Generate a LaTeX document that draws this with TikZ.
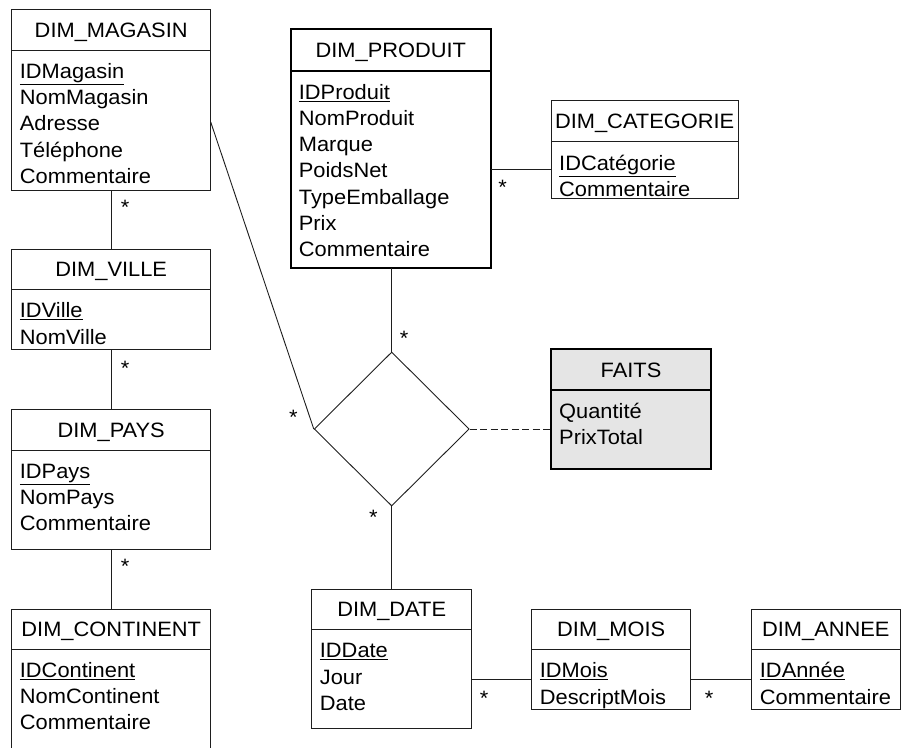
\documentclass[tikz,border=0pt]{standalone}
\usepackage{fontspec}
\setmainfont{Liberation Sans}[FakeStretch=1.05]
\usetikzlibrary{shapes.geometric}
\definecolor{faitsgray}{RGB}{229,229,229}
\definecolor{linecol}{RGB}{30,30,30}
\tikzset{
  boxthin/.style={draw=linecol, line width=0.9pt},
  boxthick/.style={draw=black, line width=1.9pt},
  boxfaits/.style={draw=black, line width=1.9pt, fill=faitsgray},
  hdr/.style={inner sep=0pt, anchor=center, text height=15pt, text depth=0pt},
  attr/.style={inner sep=0pt, anchor=base west},
  mult/.style={inner sep=0pt, anchor=base},
  conn/.style={draw=linecol, line width=0.9pt},
}
% #1 style, #2 name, #3 x1, #4 y1, #5 x2, #6 y header line, #7 y2, #8 title, #9 attributes
\newcommand\umltbl[9]{%
  \pgfmathsetmacro\tblw{#5-#3}\pgfmathsetmacro\tblh{#7-#4}%
  \node[#1, inner sep=0pt, outer sep=0pt, minimum width=\tblw pt, minimum height=\tblh pt, anchor=north west] (#2) at (#3,#4) {};
  \draw[#1, fill=none] (#3,#6) -- (#5,#6);
  \node[hdr] (#2-h) at ({(#3+#5)/2},{(#4+#6)/2}) {#8};
  \foreach \a [count=\i] in {#9} {\node[attr] (#2-\i) at (#3+8, {#6+28.5+(\i-1)*26.2}) {\a};}
}
\begin{document}
\begin{tikzpicture}[x=1pt, y=-1pt, font=\fontsize{20.8}{26}\selectfont]
\useasboundingbox (0,0) rectangle (901,747);
% tables
\umltbl{boxthin}{mag}{11.7}{9.3}{210.7}{50}{190}{DIM\_MAGASIN}{\underline{IDMagasin},NomMagasin,Adresse,Téléphone,Commentaire}
\umltbl{boxthin}{vil}{11.7}{249.3}{210.7}{289.3}{349.3}{DIM\_VILLE}{\underline{IDVille},NomVille}
\umltbl{boxthin}{pay}{11.7}{409.3}{210.7}{450}{549.3}{DIM\_PAYS}{\underline{IDPays},NomPays,Commentaire}
\umltbl{boxthin}{con}{11.7}{609}{210.7}{649}{753}{DIM\_CONTINENT}{\underline{IDContinent},NomContinent,Commentaire}
\umltbl{boxthick}{prod}{290.7}{29.3}{491}{70.7}{268.3}{DIM\_PRODUIT}{\underline{IDProduit},NomProduit,Marque,PoidsNet,TypeEmballage,Prix,Commentaire}
\umltbl{boxthin}{cat}{551}{100}{738.3}{141.7}{198.3}{DIM\_CATEGORIE}{\underline{IDCatégorie},Commentaire}
\umltbl{boxfaits}{faits}{551}{349.3}{711}{390}{469.3}{FAITS}{Quantité,PrixTotal}
\umltbl{boxthin}{date}{311.7}{589.3}{471.7}{629.3}{728.7}{DIM\_DATE}{\underline{IDDate},Jour,Date}
\umltbl{boxthin}{mois}{531.7}{609}{690.7}{649.3}{709}{DIM\_MOIS}{\underline{IDMois},DescriptMois}
\umltbl{boxthin}{annee}{751.7}{609}{900}{649.3}{709}{DIM\_ANNEE}{\underline{IDAnnée},Commentaire}
% relation diamond
\node[diamond, draw=linecol, line width=0.9pt, inner sep=0pt, minimum width=155pt, minimum height=154pt] (rel) at (391.7,429) {};
% connectors
\draw[conn] (mag.south) -- (vil.north);
\draw[conn] (vil.south) -- (pay.north);
\draw[conn] (pay.south) -- (con.north);
\coordinate (magR) at (210.7,122);
\draw[conn] (magR) -- (rel.west);
\draw[conn] (rel.north |- prod.south) -- (rel.north);
\coordinate (pc) at (491,169.3);
\draw[conn] (pc) -- (pc -| cat.west);
\draw[conn, dash pattern=on 7pt off 3.5pt] (rel.east) -- (rel.east -| faits.west);
\draw[conn] (rel.south) -- (date.north);
\coordinate (dm) at (471.7,679.3);
\draw[conn] (dm) -- (dm -| mois.west);
\draw[conn] (mois.east |- dm) -- (dm -| annee.west);
% multiplicities
\node[mult] (s1) at (125,214) {*};
\node[mult] (s2) at (125,375) {*};
\node[mult] (s3) at (125,573.7) {*};
\node[mult] (s4) at (502.7,194) {*};
\node[mult] (s5) at (404,345) {*};
\node[mult] (s6) at (293.3,424.3) {*};
\node[mult] (s7) at (373.3,524.3) {*};
\node[mult] (s8) at (484,705) {*};
\node[mult] (s9) at (709,705.3) {*};
\end{tikzpicture}
\end{document}
